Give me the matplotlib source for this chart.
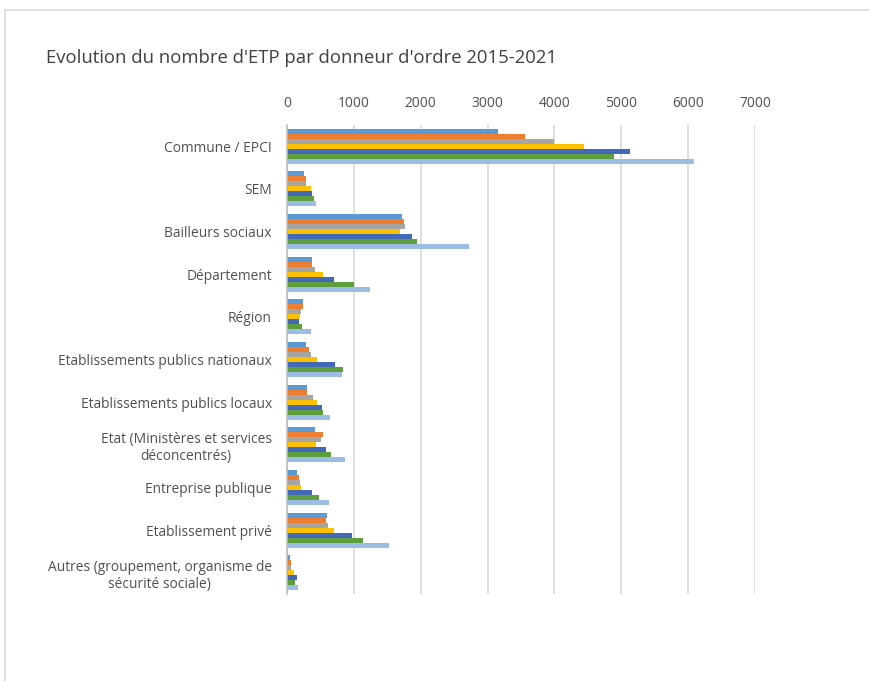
import matplotlib
matplotlib.use('Agg')
import matplotlib.pyplot as plt
from matplotlib.lines import Line2D
import numpy as np

plt.rcParams['font.family'] = ['Open Sans', 'DejaVu Sans']

# donneurs d'ordre (de haut en bas)
categories = [
    'Commune / EPCI',
    'SEM',
    'Bailleurs sociaux',
    'Département',
    'Région',
    'Etablissements publics nationaux',
    'Etablissements publics locaux',
    'Etat (Ministères et services\ndéconcentrés)',
    'Entreprise publique',
    'Etablissement privé',
    'Autres (groupement, organisme de\nsécurité sociale)',
]
years = ['2015', '2016', '2017', '2018', '2019', '2020', '2021']

# ETP, une liste par année
etp_2015 = [3160, 250, 1715, 380, 240, 280, 305, 415, 145, 595, 40]
etp_2016 = [3555, 280, 1745, 380, 240, 330, 305, 535, 185, 580, 60]
etp_2017 = [3990, 290, 1770, 420, 215, 365, 395, 505, 200, 610, 55]
etp_2018 = [4435, 355, 1695, 545, 200, 445, 455, 440, 215, 700, 110]
etp_2019 = [5135, 380, 1875, 700, 185, 725, 520, 585, 380, 970, 145]
etp_2020 = [4895, 405, 1945, 995, 230, 830, 535, 660, 485, 1140, 125]
etp_2021 = [6085, 430, 2715, 1240, 365, 815, 650, 865, 625, 1530, 160]

series = [etp_2015, etp_2016, etp_2017, etp_2018, etp_2019, etp_2020, etp_2021]
colors = ['#5B9BD5', '#ED7D31', '#A5A5A5', '#FFC000', '#4169B8', '#5E9E3E', '#9BBDE4']

fig = plt.figure(figsize=(8.69, 6.81), dpi=100)
ax = fig.add_axes([0.3303, 0.1278, 0.5385, 0.6886])

y = np.arange(len(categories))
group = 0.82
h = group / len(series)
for i, (vals, c) in enumerate(zip(series, colors)):
    ax.barh(y - group / 2 + h * (i + 0.5), vals, height=h, color=c, label=years[i], zorder=3)

ax.set_xlim(0, 7000)
ax.set_ylim(len(categories) - 0.5, -0.5)
ax.set_xticks(range(0, 7001, 1000))
ax.xaxis.tick_top()
ax.set_yticks(y)
ax.set_yticklabels(categories, multialignment='center')
ax.tick_params(axis='both', length=0, labelsize=9.9, labelcolor='#505050')
ax.tick_params(axis='x', pad=10)
ax.tick_params(axis='y', pad=11)
ax.grid(axis='x', color='#D9D9D9', linewidth=1.2, zorder=0)
for s in ['top', 'right', 'bottom']:
    ax.spines[s].set_visible(False)
ax.spines['left'].set_color('#BFBFBF')
ax.spines['left'].set_linewidth(1.2)
ax.spines['left'].set_zorder(4)

fig.text(46 / 869, 1 - 58 / 681, "Evolution du nombre d'ETP par donneur d'ordre 2015-2021",
         fontsize=13.3, color='#404040', va='center', ha='left')

# cadre du graphique
fig.add_artist(Line2D([5 / 869, 868 / 869], [1 - 10 / 681, 1 - 10 / 681], color='#D9D9D9', lw=1.2))
fig.add_artist(Line2D([5 / 869, 5 / 869], [1 - 10 / 681, 0], color='#D9D9D9', lw=1.2))

fig.savefig('out.png', dpi=100)
